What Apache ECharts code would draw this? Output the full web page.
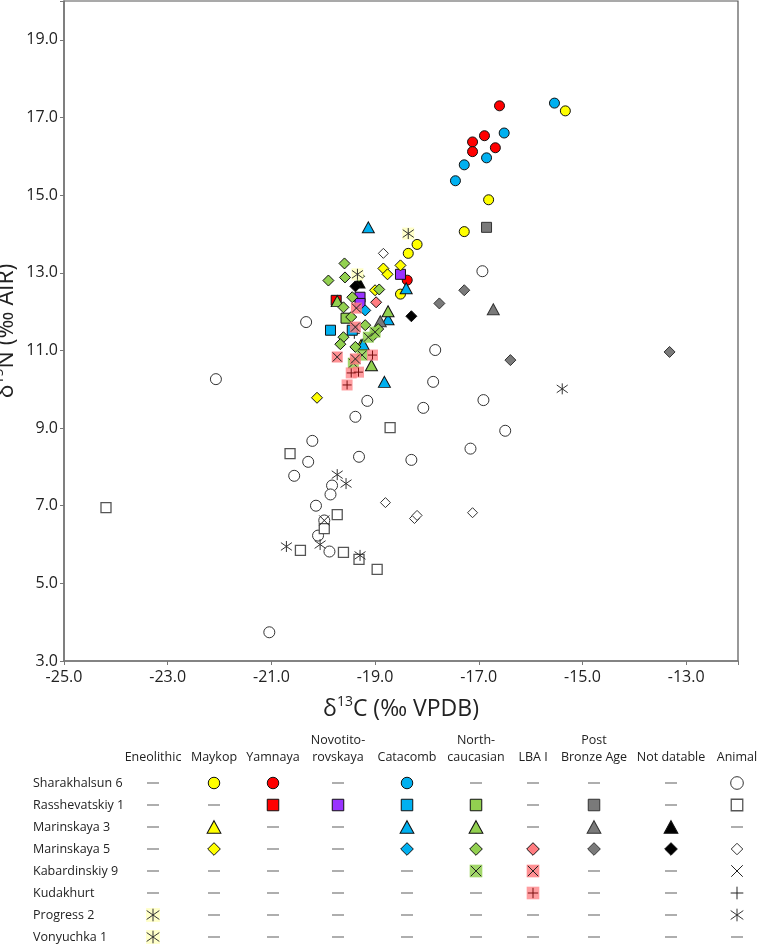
<!DOCTYPE html>
<html>
<head>
<meta charset="utf-8">
<script src="https://cdn.jsdelivr.net/npm/echarts@6/dist/echarts.min.js"></script>
<style>html,body{margin:0;padding:0;background:#fff}#c{width:757px;height:945px}</style>
</head>
<body>
<div id="c"></div>
<script>
// ---------------- Axis settings ----------------
const xMin = -25, xMax = -12, xStep = 2;
const yMin = 3, yMax = 20, yStep = 2;

// ---------------- Legend table labels ----------------
const cultures = ['Eneolithic', 'Maykop', 'Yamnaya', 'Novotito-\nrovskaya', 'Catacomb', 'North-\ncaucasian', 'LBA I', 'Post\nBronze Age', 'Not datable', 'Animal'];
const sites = ['Sharakhalsun 6', 'Rasshevatskiy 1', 'Marinskaya 3', 'Marinskaya 5', 'Kabardinskiy 9', 'Kudakhurt', 'Progress 2', 'Vonyuchka 1'];

// ---------------- Data: [δ13C, δ15N] ----------------
// Sharakhalsun 6
const sharakhalsunMaykop = [[-15.33, 17.17], [-16.81, 14.88], [-17.28, 14.06], [-18.19, 13.73], [-18.36, 13.50], [-18.51, 12.45]];
const sharakhalsunYamnaya = [[-16.60, 17.30], [-16.89, 16.53], [-17.12, 16.37], [-17.12, 16.12], [-16.68, 16.22], [-18.38, 12.81]];
const sharakhalsunCatacomb = [[-15.54, 17.37], [-16.51, 16.60], [-16.85, 15.96], [-17.28, 15.78], [-17.45, 15.37]];
const sharakhalsunAnimal = [[-22.07, 10.26], [-20.33, 11.73], [-16.93, 13.04], [-17.84, 11.01], [-17.88, 10.19], [-19.15, 9.70],
  [-16.91, 9.72], [-18.07, 9.52], [-19.38, 9.29], [-16.49, 8.93], [-20.21, 8.67], [-17.16, 8.47], [-20.29, 8.13], [-19.31, 8.26],
  [-18.30, 8.18], [-20.56, 7.77], [-19.83, 7.52], [-19.86, 7.29], [-20.14, 7.00], [-19.98, 6.62], [-20.10, 6.23], [-19.88, 5.82], [-21.04, 3.74]];
// Rasshevatskiy 1
const rasshevatskiyYamnaya = [[-19.75, 12.29]];
const rasshevatskiyNovotitorovskaya = [[-18.51, 12.96], [-19.29, 12.37], [-19.29, 12.21]];
const rasshevatskiyCatacomb = [[-19.86, 11.52], [-19.44, 11.52]];
const rasshevatskiyNorthCaucasian = [[-19.56, 11.83]];
const rasshevatskiyPostBronze = [[-16.85, 14.17]];
const rasshevatskiyAnimal = [[-24.19, 6.95], [-18.71, 9.01], [-20.64, 8.34], [-19.73, 6.77], [-19.98, 6.41], [-20.44, 5.85], [-19.61, 5.80], [-19.31, 5.62], [-18.96, 5.36]];
// Marinskaya 3
const marinskaya3Maykop = [[-19.27, 11.14]];
const marinskaya3Catacomb = [[-19.13, 14.17], [-18.40, 12.60], [-18.75, 11.80], [-19.23, 11.16], [-18.82, 10.19]];
const marinskaya3NorthCaucasian = [[-19.73, 12.27], [-18.75, 12.01], [-19.07, 10.62]];
const marinskaya3PostBronze = [[-16.72, 12.06], [-18.90, 11.75]];
const marinskaya3NotDatable = [[-19.31, 12.75]];
// Marinskaya 5
const marinskaya5Maykop = [[-18.84, 13.11], [-18.76, 12.96], [-18.51, 13.19], [-19.00, 12.55], [-20.12, 9.78]];
const marinskaya5Catacomb = [[-19.19, 12.03]];
const marinskaya5NorthCaucasian = [[-19.59, 13.24], [-19.58, 12.88], [-19.90, 12.80], [-19.31, 12.91], [-18.92, 12.57], [-19.44, 12.37],
  [-19.61, 12.11], [-19.46, 11.86], [-19.19, 11.65], [-18.94, 11.55], [-19.03, 11.39], [-19.61, 11.34], [-19.67, 11.16], [-19.38, 11.09]];
const marinskaya5LBA = [[-18.98, 12.24]];
const marinskaya5PostBronze = [[-17.28, 12.55], [-17.76, 12.21], [-16.39, 10.75], [-13.32, 10.96]];
const marinskaya5NotDatable = [[-18.30, 11.88], [-19.38, 12.65]];
const marinskaya5Animal = [[-18.84, 13.50], [-18.80, 7.08], [-18.24, 6.67], [-18.19, 6.75], [-17.12, 6.82]];
// Kabardinskiy 9
const kabardinskiyNorthCaucasian = [[-19.13, 11.34], [-19.00, 11.47], [-19.25, 10.88], [-19.42, 10.67]];
const kabardinskiyLBA = [[-19.36, 12.09], [-19.38, 11.60], [-19.73, 10.83], [-19.38, 10.78]];
const kabardinskiyAnimal = [[-19.98, 6.62]];
// Kudakhurt
const kudakhurtLBA = [[-19.05, 10.88], [-19.46, 10.42], [-19.32, 10.44], [-19.54, 10.11]];
const kudakhurtAnimal = [[-19.40, 11.44]];
// Progress 2
const progressEneolithic = [[-18.36, 14.01]];
const progressAnimal = [[-19.73, 7.80], [-19.56, 7.57], [-20.71, 5.95], [-20.06, 6.00], [-19.29, 5.72], [-15.39, 10.01]];
// Vonyuchka 1
const vonyuchkaEneolithic = [[-19.34, 12.96]];

// site index, culture index, data
const groups = [
  [0, 9, sharakhalsunAnimal], [1, 9, rasshevatskiyAnimal], [3, 9, marinskaya5Animal], [4, 9, kabardinskiyAnimal],
  [5, 9, kudakhurtAnimal], [6, 9, progressAnimal],
  [0, 1, sharakhalsunMaykop], [0, 2, sharakhalsunYamnaya], [0, 4, sharakhalsunCatacomb],
  [1, 2, rasshevatskiyYamnaya], [1, 3, rasshevatskiyNovotitorovskaya], [1, 4, rasshevatskiyCatacomb],
  [1, 5, rasshevatskiyNorthCaucasian], [1, 7, rasshevatskiyPostBronze],
  [2, 1, marinskaya3Maykop], [2, 4, marinskaya3Catacomb], [2, 5, marinskaya3NorthCaucasian],
  [2, 7, marinskaya3PostBronze], [2, 8, marinskaya3NotDatable],
  [3, 1, marinskaya5Maykop], [3, 4, marinskaya5Catacomb], [3, 5, marinskaya5NorthCaucasian], [3, 6, marinskaya5LBA],
  [3, 7, marinskaya5PostBronze], [3, 8, marinskaya5NotDatable],
  [4, 5, kabardinskiyNorthCaucasian], [4, 6, kabardinskiyLBA],
  [5, 6, kudakhurtLBA],
  [6, 0, progressEneolithic], [7, 0, vonyuchkaEneolithic]
];

// ---------------- Styles / layout ----------------
const FONT = 'Open Sans';
// horizontal layout of legend-table columns (relative column offsets)
const legendColumnOffsets = [0, 61, 120, 185, 254, 323, 380, 441, 518, 584];
const siteShapes = ['circle', 'rect', 'triangle', 'diamond', 'xsq', 'plussq', 'aster', 'aster'];
const cultureFill = ['#FFFFC8', '#FFFF00', '#FF0000', '#9933FF', '#00B0F0', '#92D050', '#FF7C80', '#7A7A7A', '#000000', '#FFFFFF'];
const P_X = 'path://M0,0L10,10M10,0L0,10';
const P_PLUS = 'path://M5,0L5,10M0,5L10,5';
const P_AST = 'path://M0,1.5L10,8.5M10,1.5L0,8.5M5,0L5,10';

function layers(shape, culture) {
  const fill = cultureFill[culture];
  const animal = culture === 9;
  const edge = animal ? '#333' : (culture === 7 ? '#333' : '#111');
  const L = [];
  if (shape === 'circle') L.push({ symbol: 'circle', size: animal ? 11 : 10, color: fill, border: edge, bw: 1 });
  else if (shape === 'rect') L.push({ symbol: 'rect', size: 10, color: fill, border: animal ? '#555' : edge, bw: animal ? 1.3 : 1 });
  else if (shape === 'triangle') L.push({ symbol: 'triangle', size: [12, 11], color: fill, border: edge, bw: 1 });
  else if (shape === 'diamond') L.push({ symbol: 'diamond', size: animal ? [10, 10] : [11, 11], color: fill, border: edge, bw: 1 });
  else if (shape === 'xsq') {
    if (!animal) L.push({ symbol: 'rect', size: 11, color: fill, border: fill, bw: 0, opacity: 0.85 });
    L.push({ symbol: P_X, size: animal ? 10 : 9, color: 'none', border: '#222', bw: 1 });
  } else if (shape === 'plussq') {
    if (!animal) L.push({ symbol: 'rect', size: 11, color: fill, border: fill, bw: 0, opacity: 0.75 });
    L.push({ symbol: P_PLUS, size: animal ? 11 : 9, color: 'none', border: animal ? '#222' : '#7a1010', bw: 1 });
  } else if (shape === 'aster') {
    if (!animal) L.push({ symbol: 'rect', size: 12, color: fill, border: fill, bw: 0 });
    L.push({ symbol: P_AST, size: 11, color: 'none', border: '#333', bw: 1 });
  }
  return L;
}

function makeSeries(shape, culture, data, ax, scale) {
  return layers(shape, culture).map(l => ({
    type: 'scatter',
    xAxisIndex: ax, yAxisIndex: ax,
    data: data,
    symbol: l.symbol,
    symbolSize: Array.isArray(l.size) ? l.size.map(v => v * scale) : l.size * scale,
    itemStyle: { color: l.color, borderColor: l.border, borderWidth: l.bw, opacity: l.opacity == null ? 1 : l.opacity },
    silent: true,
    z: 3
  }));
}

const series = [];
// main plot
groups.forEach(g => { series.push(...makeSeries(siteShapes[g[0]], g[1], g[2], 0, 1)); });
// legend table: a symbol where a site/culture group exists, a dash otherwise
const used = {};
groups.forEach(g => { used[g[0] + '_' + g[1]] = true; });
groups.forEach(g => { series.push(...makeSeries(siteShapes[g[0]], g[1], [[legendColumnOffsets[g[1]], g[0]]], 1, 1.15)); });
const dashCells = [];
sites.forEach((s, r) => cultures.forEach((c, k) => { if (!used[r + '_' + k]) dashCells.push([legendColumnOffsets[k], r]); }));
series.push({
  type: 'scatter', xAxisIndex: 1, yAxisIndex: 1, data: dashCells,
  symbol: 'rect', symbolSize: [12, 1.2], itemStyle: { color: '#555' }, silent: true
});

const axisLabelStyle = { fontFamily: FONT, fontSize: 16, color: '#222' };
const nameRich = {
  a: { fontFamily: FONT, fontSize: 23, color: '#222', lineHeight: 28 },
  s: { fontFamily: FONT, fontSize: 14, color: '#222', verticalAlign: 'top', lineHeight: 28 }
};

const chart = echarts.init(document.getElementById('c'), null, { renderer: 'canvas' });
chart.setOption({
  animation: false,
  backgroundColor: '#fff',
  grid: [
    { left: 64, top: 1, width: 674, height: 660, show: true, borderColor: '#555', borderWidth: 1.2, backgroundColor: 'transparent', containLabel: false, outerBoundsMode: 'none' },
    { left: 153, top: 783, width: 584, height: 154, containLabel: false, outerBoundsMode: 'none' }
  ],
  xAxis: [
    {
      type: 'value', gridIndex: 0, min: xMin, max: xMax, interval: xStep,
      axisLine: { show: true, onZero: false, lineStyle: { color: '#777', width: 1.5 } },
      axisTick: { show: true, length: 4, lineStyle: { color: '#777' } },
      splitLine: { show: false },
      axisLabel: { ...axisLabelStyle, margin: 8, formatter: v => (v === xMax ? '' : v.toFixed(1)) },
      name: '{a|δ}{s|13}{a|C (‰ VPDB)}', nameLocation: 'middle', nameGap: 34,
      nameTextStyle: { fontFamily: FONT, fontSize: 23, color: '#222', rich: nameRich }
    },
    {
      type: 'value', gridIndex: 1, position: 'top', min: legendColumnOffsets[0], max: legendColumnOffsets[legendColumnOffsets.length - 1],
      axisLine: { show: false }, axisTick: { show: false }, splitLine: { show: false },
      axisLabel: {
        fontFamily: FONT, fontSize: 12.5, color: '#222', margin: 17, lineHeight: 17,
        customValues: legendColumnOffsets,
        formatter: v => { const i = legendColumnOffsets.indexOf(v); return i >= 0 ? cultures[i] : ''; }
      }
    }
  ],
  yAxis: [
    {
      type: 'value', gridIndex: 0, min: yMin, max: yMax, interval: yStep,
      axisLine: { show: true, onZero: false, lineStyle: { color: '#777', width: 1.5 } },
      axisTick: { show: true, length: 4, lineStyle: { color: '#777' } },
      splitLine: { show: false },
      axisLabel: { ...axisLabelStyle, margin: 6, formatter: v => (v === yMax ? '' : v.toFixed(1)) },
      name: '{a|δ}{s|15}{a|N (‰ AIR)}', nameLocation: 'middle', nameGap: 44, nameRotate: 90, nameMoveOverlap: false,
      nameTextStyle: { fontFamily: FONT, fontSize: 23, color: '#222', rich: nameRich }
    },
    {
      type: 'category', gridIndex: 1, data: sites, inverse: true, boundaryGap: false,
      axisLine: { show: false }, axisTick: { show: false }, splitLine: { show: false },
      axisLabel: { fontFamily: FONT, fontSize: 12.5, color: '#222', align: 'left', margin: 120, interval: 0 }
    }
  ],
  series: series
});
</script>
</body>
</html>
